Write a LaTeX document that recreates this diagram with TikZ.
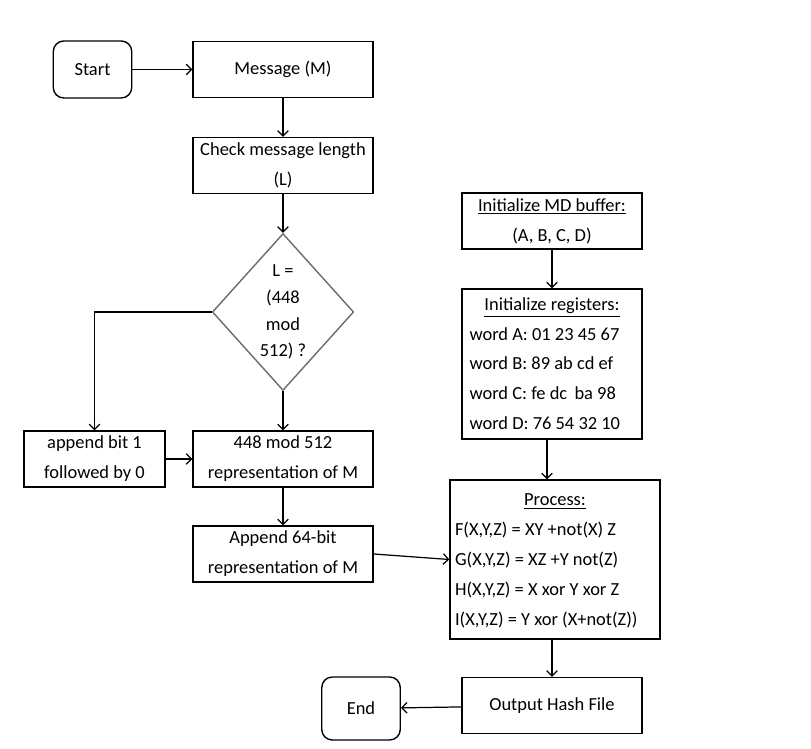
\documentclass[tikz,border=0pt]{standalone}
\usepackage{fontspec}
\setmainfont{Carlito}
\usetikzlibrary{shapes.geometric, arrows.meta, positioning, calc}

\begin{document}
\begin{tikzpicture}[
  x=0.02cm, y=-0.02cm,
  box/.style={rectangle, draw=black, line width=0.8pt,
              minimum width=3.6cm, minimum height=1.12cm,
              align=center, inner sep=1pt},
  term/.style={rectangle, draw=black, line width=0.8pt,
               rounded corners=6pt, minimum width=1.57cm,
               minimum height=1.14cm, align=center},
  dec/.style={diamond, draw=gray!85!black, line width=0.8pt,
              minimum width=2.44cm, minimum height=3.14cm,
              inner sep=0pt, align=center,
              font=\fontsize{10.5}{15.3}\selectfont},
  list/.style={rectangle, draw=black, line width=0.8pt,
               inner xsep=0.12cm, inner ysep=0pt},
  >={Straight Barb[length=3pt,width=6pt]},
  font=\fontsize{10.5}{17}\selectfont, line width=0.7pt
]
  \useasboundingbox (0,0) rectangle (811,749);

  %% Left column: message preparation
  \node[term] (start)  at (92.5, 69.5)  {Start};
  \node[box]  (msg)    at (283, 69.5)   {Message (M)};
  \node[box]  (chklen) at (283, 165.5)  {Check message length\\(L)};
  \node[dec]  (lendec) at (283, 312)    {L =\\(448\\mod\\512) ?};
  \node[box, minimum width=2.82cm] (appbit) at (94.5, 459) {append bit 1\\followed by 0};
  \node[box]  (rep448) at (283, 459)    {448 mod 512\\representation of M};
  \node[box]  (app64)  at (283, 554)    {Append 64-bit\\representation of M};

  %% Right column: buffer, rounds, output
  \node[box]  (mdbuf)  at (552, 221)    {\underline{Initialize MD buffer:}\\(A, B, C, D)};
  \node[list, minimum width=3.6cm, minimum height=3cm] (regs) at (552, 364)
    {\begin{tabular}{@{}p{3.3cm}@{}}
       \multicolumn{1}{@{}c@{}}{\underline{Initialize registers:}}\\
       word A: 01 23 45 67\\
       word B: 89 ab cd ef\\
       word C: fe dc\, ba 98\\
       word D: 76 54 32 10
     \end{tabular}};
  \node[list, minimum width=4.2cm, minimum height=3.18cm, inner xsep=0.08cm] (process) at (555, 559.5)
    {\begin{tabular}{@{}p{4.0cm}@{}}
       \multicolumn{1}{@{}c@{}}{\underline{Process:}}\\
       F(X,Y,Z) = XY +not(X) Z\\
       G(X,Y,Z) = XZ +Y not(Z)\\
       H(X,Y,Z) = X xor Y xor Z\\
       I(X,Y,Z) = Y xor (X+not(Z))
     \end{tabular}};
  \node[box]  (hashout) at (552, 705.5) {Output Hash File};
  \node[term, minimum height=1.26cm] (finish) at (361, 708.5) {End};

  %% Connectors
  \draw[->] (start) -- (msg);
  \draw[->] (msg) -- (chklen);
  \draw[->] (chklen) -- (lendec);
  \draw[->] (lendec.west) -| (appbit.north);
  \draw[->] (lendec) -- (rep448);
  \draw[->] (appbit) -- (rep448);
  \draw[->] (rep448) -- (app64);
  \draw[->] (app64.east) -- (process.west);
  \draw[->] (mdbuf) -- (regs);
  \draw[->] ($(regs.south)+(-5,0)$) -- ($(regs.south |- process.north)+(-5,0)$);
  \draw[->] (hashout.north |- process.south) -- (hashout.north);
  \draw[->] (hashout) -- (finish);
\end{tikzpicture}
\end{document}
